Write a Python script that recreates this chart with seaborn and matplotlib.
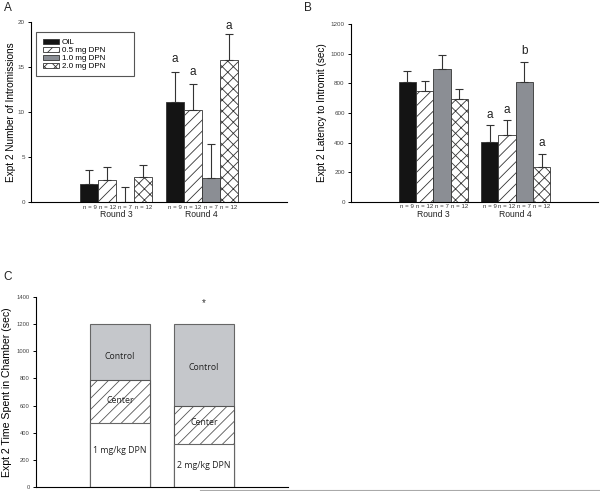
import numpy as np
import pandas as pd
import matplotlib
matplotlib.use("Agg")
import matplotlib.pyplot as plt
import seaborn as sns
from matplotlib.patches import Patch
from matplotlib.lines import Line2D

# ---- data ----
rounds = ["Round 3", "Round 4"]
doses = ["OIL", "0.5 mg DPN", "1.0 mg DPN", "2.0 mg DPN"]
n_labels = ["n = 9", "n = 12", "n = 7", "n = 12"]

# panel A: number of intromissions (bar height, top of error bar), order = doses
intro_r3 = [1.96, 2.48, 0.0, 2.81]
intro_r3_top = [3.52, 3.93, 1.70, 4.15]
intro_r4 = [11.1, 10.26, 2.70, 15.8]
intro_r4_top = [14.44, 13.15, 6.48, 18.7]
intro_letters = ["a", "a", "", "a"]          # round 4 only
intro_letter_y = [15.9, 14.4, 0, 19.55]

# panel B: latency to intromit (sec)
lat_r3 = [810, 745, 900, 696]
lat_r3_top = [885, 813, 988, 764]
lat_r4 = [403, 455, 810, 234]
lat_r4_top = [518, 556, 941, 326]
lat_letters = ["a", "a", "b", "a"]
lat_letter_y = [588, 620, 1018, 398]

# panel C: time spent in chamber (sec), stacked
c_groups = ["1 mg/kg DPN", "2 mg/kg DPN"]
c_dpn = [470, 316]
c_center = [316, 284]
c_control = [414, 600]

fills = ["#141414", "white", "#8a8e95", "white"]
hatches = [None, "///", None, "xxx"]
edge = "#333333"

plt.rcParams["font.family"] = ["Liberation Sans", "DejaVu Sans"]
plt.rcParams["hatch.linewidth"] = 0.6

fig = plt.figure(figsize=(6, 4.91), dpi=100)
W, H = 600.0, 491.0


def px_axes(left, top, right, bottom):
    return fig.add_axes([left / W, 1 - bottom / H, (right - left) / W, (bottom - top) / H])


def style_axis(ax, ymax, step, ylabel, tick_fs=4.5, label_fs=7.2, pad=2.5):
    ax.set_ylim(0, ymax)
    ax.set_yticks(np.arange(0, ymax + 1e-9, step))
    ax.set_xticks([])
    ax.set_xlabel("")
    ax.set_ylabel(ylabel, fontsize=label_fs, labelpad=pad)
    for s in ["top", "right"]:
        ax.spines[s].set_visible(False)
    for s in ["left", "bottom"]:
        ax.spines[s].set_linewidth(0.8)
    ax.tick_params(axis="y", direction="out", length=2.5, width=0.7,
                   labelsize=tick_fs, labelcolor="#444444", pad=2)


def grouped_panel(ax, r3, r3_top, r4, r4_top, letters, letter_y, n_y, round_y):
    df = pd.DataFrame({
        "round": [rounds[0]] * 4 + [rounds[1]] * 4,
        "dose": doses * 2,
        "value": r3 + r4,
    })
    sns.barplot(data=df, x="round", y="value", hue="dose", order=rounds,
                hue_order=doses, palette=fills, errorbar=None, width=0.84,
                edgecolor=edge, linewidth=0.6, legend=False, ax=ax)
    tops = [r3_top, r4_top]
    means = [r3, r4]
    bar_conts = list(ax.containers)
    for i, cont in enumerate(bar_conts):
        for j, bar in enumerate(cont):
            if hatches[i]:
                bar.set_hatch(hatches[i])
                bar.set_facecolor("white")
            bar.set_edgecolor(edge)
            x = bar.get_x() + bar.get_width() / 2
            m = means[j][i]
            ax.errorbar([x], [m], yerr=[[0], [tops[j][i] - m]], fmt="none",
                        ecolor=edge, elinewidth=0.8, capsize=3, capthick=0.8)
            ax.text(x, n_y, n_labels[i], transform=ax.get_xaxis_transform(),
                    ha="center", va="center", fontsize=4.4, color="#333333")
            if j == 1 and letters[i]:
                ax.text(x, letter_y[i], letters[i], ha="center", va="center",
                        fontsize=8.5, color="#222222", clip_on=False)
    for k, r in enumerate(rounds):
        ax.text(k, round_y, r, transform=ax.get_xaxis_transform(),
                ha="center", va="center", fontsize=6.2, color="#222222")
    ax.set_xlim(-1, 2)


# ---- panel A ----
axA = px_axes(31, 22, 287, 202)
grouped_panel(axA, intro_r3, intro_r3_top, intro_r4, intro_r4_top,
              intro_letters, intro_letter_y, -0.028, -0.069)
style_axis(axA, 20, 5, "Expt 2 Number of Intromissions", pad=1)
handles = [Patch(facecolor=fills[i], edgecolor=edge, hatch=hatches[i], linewidth=0.6)
           for i in range(4)]
leg = axA.legend(handles, doses, loc="upper left",
                 bbox_to_anchor=(0.02, 0.944, 98 / 256, 0), mode="expand",
                 borderaxespad=0, fontsize=5.8, handlelength=2.0, handleheight=0.6,
                 labelspacing=0.08, fancybox=False, framealpha=1,
                 borderpad=0.8, handletextpad=0.4)
leg.get_frame().set_edgecolor("#555555")
leg.get_frame().set_linewidth(0.8)

# ---- panel B ----
axB = px_axes(351, 24, 598, 202)
grouped_panel(axB, lat_r3, lat_r3_top, lat_r4, lat_r4_top,
              lat_letters, lat_letter_y, -0.026, -0.073)
style_axis(axB, 1200, 200, "Expt 2 Latency to Intromit (sec)")

# ---- panel C ----
axC = px_axes(36, 297, 288, 487)
mid = [a + b for a, b in zip(c_dpn, c_center)]
total = [a + b for a, b in zip(mid, c_control)]
sns.barplot(x=c_groups, y=total, color="#c5c7cb", width=0.71, edgecolor="#666666",
            linewidth=0.8, saturation=1, ax=axC)
sns.barplot(x=c_groups, y=mid, color="white", width=0.71, edgecolor="#555555",
            linewidth=0.8, saturation=1, ax=axC)
for bar in axC.containers[1]:
    bar.set_hatch("///")
sns.barplot(x=c_groups, y=c_dpn, color="white", width=0.71, edgecolor="#666666",
            linewidth=0.8, saturation=1, ax=axC)
axC.set_xlim(-1, 2)
style_axis(axC, 1400, 200, "Expt 2 Time Spent in Chamber (sec)", tick_fs=4.2,
           label_fs=7.6, pad=3)

control_y = [965, 879]
center_y = [641, 472]
dpn_y = [272, 155]
for k in range(2):
    axC.text(k, control_y[k], "Control", ha="center", va="center", fontsize=6.3,
             family=["Open Sans", "DejaVu Sans"], color="#222222")
    axC.text(k, center_y[k], "Center", ha="center", va="center", fontsize=6.3,
             family=["Open Sans", "DejaVu Sans"], color="#222222")
    axC.text(k, dpn_y[k], c_groups[k], ha="center", va="center", fontsize=6.3,
             family=["Open Sans", "DejaVu Sans"], color="#222222")
axC.text(1, 1356, "*", ha="center", va="center", fontsize=7, color="#333333",
         clip_on=False)

fig.add_artist(Line2D([200 / W, 1.0], [1 - 490 / H] * 2, color="#aaaaaa", lw=0.8))

# panel letters
fig.text(4 / W, 1 - 8 / H, "A", fontsize=8.5, va="center", ha="left", color="#222222")
fig.text(304 / W, 1 - 8 / H, "B", fontsize=8.5, va="center", ha="left", color="#222222")
fig.text(3 / W, 1 - 277 / H, "C", fontsize=8.5, va="center", ha="left", color="#222222")

fig.savefig("out.png", dpi=100)
